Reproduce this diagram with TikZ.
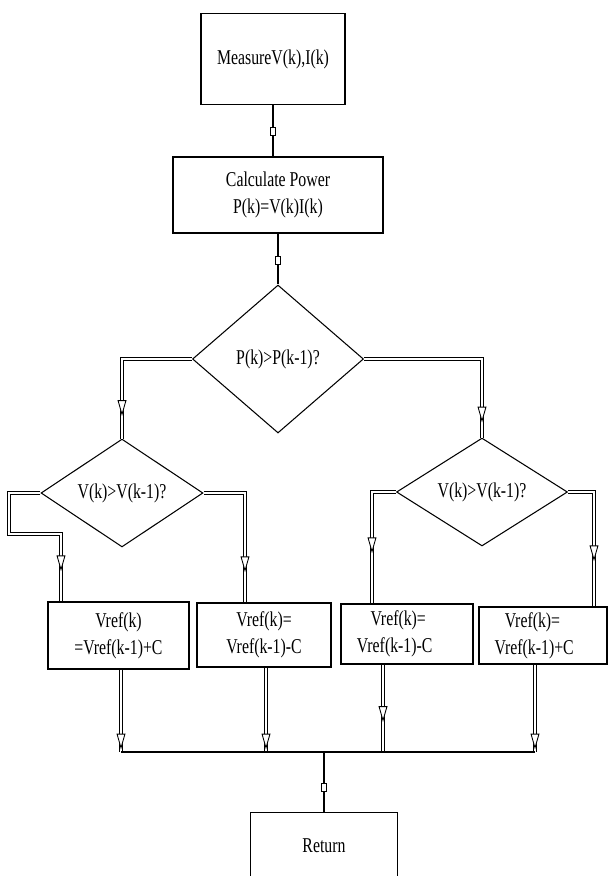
\documentclass[tikz,border=0pt]{standalone}
\usepackage{fontspec}
\setmainfont[FakeStretch=0.75]{Liberation Serif}
\usepackage{tikz}
\usetikzlibrary{arrows.meta,shapes.geometric,decorations.markings}

\begin{document}
\begin{tikzpicture}[
  x=0.02cm,y=-0.02cm,
  font=\fontsize{12pt}{15.5pt}\selectfont,
  stepbox/.style={draw,line width=0.9pt,align=center,inner sep=1pt},
  decision/.style={draw,diamond,line width=0.6pt,align=center,inner sep=0pt},
  wire/.style={line width=1.1pt},
  flow/.style={double,double distance=1.3pt,line width=0.5pt,
    postaction={decorate,decoration={markings,mark=at position #1 with {\arrow[line width=0.5pt]{Triangle[fill=white,length=9pt,width=5pt]}}}}},
  flow/.default=-0.5cm,
  tick/.style={wire,
    postaction={decorate,decoration={markings,mark=at position #1 with {\arrow[line width=0.5pt]{Rectangle[fill=white,length=5pt,width=3.5pt]}}}}},
  tick/.default=-0.4cm,
]
\useasboundingbox (0,0) rectangle (608,876);
\node[stepbox,minimum width=2.88cm,minimum height=1.82cm] (measure) at (273,59) {MeasureV(k),I(k)};
\node[stepbox,minimum width=4.2cm,minimum height=1.52cm] (power) at (278,195) {Calculate Power\\P(k)=V(k)I(k)};
\node[decision,minimum width=3.42cm,minimum height=2.96cm] (cmpP) at (278,359) {P(k)>P(k-1)?};
\node[decision,minimum width=3.24cm,minimum height=2.1cm] (cmpVl) at (122,493) {V(k)>V(k-1)?};
\node[decision,minimum width=3.42cm,minimum height=2.1cm] (cmpVr) at (482,492) {V(k)>V(k-1)?};
\node[stepbox,minimum width=2.82cm,minimum height=1.34cm] (incL) at (118.5,635.5) {Vref(k)\\=Vref(k-1)+C};
\node[stepbox,minimum width=2.68cm,minimum height=1.28cm] (decL) at (264,635) {Vref(k)=\\Vref(k-1)-C};
\node[stepbox,minimum width=2.64cm,minimum height=1.2cm] (decR) at (407,634) {Vref(k)=\hspace*{10pt}\\Vref(k-1)-C\hspace*{14pt}};
\node[stepbox,minimum width=2.56cm,minimum height=1.14cm] (incR) at (543,635.5) {Vref(k)=\hspace*{12pt}\\Vref(k-1)+C\hspace*{10pt}};
\node[stepbox,minimum width=2.94cm,minimum height=1.34cm] (ret) at (324,846) {Return};
\coordinate (kA) at (9,493);
\coordinate (kB) at (9,534);
\coordinate (kC) at (61,534);
\coordinate (jL) at (245,493);
\coordinate (jR) at (372,492);
\coordinate (jRR) at (594,492);
\coordinate (mA) at (121,752);
\coordinate (mB) at (266,752);
\coordinate (mC) at (383,752);
\coordinate (mD) at (535,752);
\coordinate (mid) at (324,752);
\draw[tick] (measure.south) -- (measure.south |- power.north);
\draw[tick] (power.south) -- (cmpP.north);
\draw[flow=-0.45cm] (cmpP.west) -| (cmpVl.north);
\draw[flow=-0.3cm] (cmpP.east) -| (cmpVr.north);
\draw[flow=-0.6cm] (cmpVl.west) -- (kA) -- (kB) -- (kC) -- (kC |- incL.north);
\draw[flow=-0.6cm] (cmpVl.east) -- (jL) -- (jL |- decL.north);
\draw[flow=-1cm] (cmpVr.west) -- (jR) -- (jR |- decR.north);
\draw[flow=-0.9cm] (cmpVr.east) -- (jRR) -- (jRR |- incR.north);
\draw[flow=-0.05cm] (mA |- incL.south) -- (mA);
\draw[flow=-0.05cm] (mB |- decL.south) -- (mB);
\draw[flow=-0.6cm] (mC |- decR.south) -- (mC);
\draw[flow=-0.05cm] (mD |- incR.south) -- (mD);
\draw[wire] (mA) -- (mD);
\draw[tick=-0.4cm] (mid) -- (ret.north);
\end{tikzpicture}
\end{document}
